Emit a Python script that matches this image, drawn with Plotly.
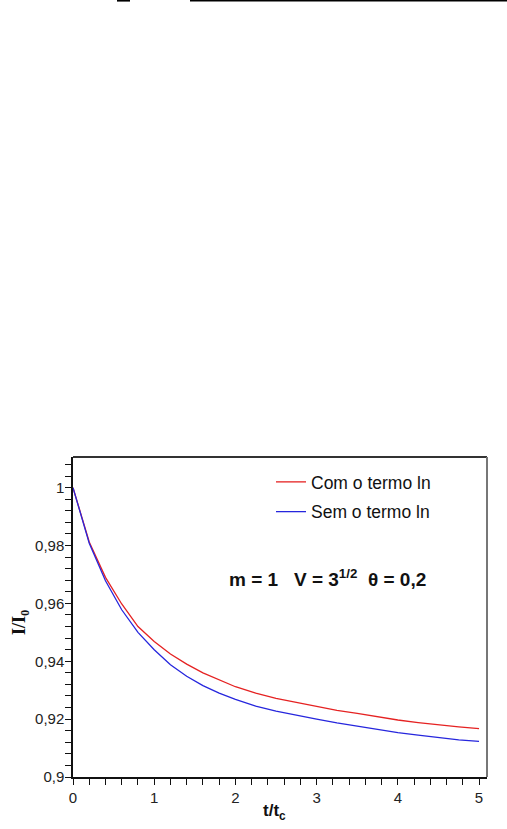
import plotly.graph_objects as go

t_vals = [0, 0.2, 0.4, 0.6, 0.8, 1.0, 1.2, 1.4, 1.6, 1.8, 2.0, 2.25, 2.5, 2.75,
          3.0, 3.25, 3.5, 3.75, 4.0, 4.25, 4.5, 4.75, 5.0]
com_ln = [1.0, 0.9812, 0.9690, 0.9598, 0.9520, 0.9468, 0.9425, 0.9390, 0.9360,
          0.9335, 0.9312, 0.9290, 0.9272, 0.9258, 0.9243, 0.9230, 0.9220, 0.9208,
          0.9197, 0.9188, 0.9180, 0.9173, 0.9167]
sem_ln = [1.0, 0.9808, 0.9678, 0.9578, 0.9500, 0.9440, 0.9388, 0.9348, 0.9316,
          0.9290, 0.9268, 0.9245, 0.9228, 0.9213, 0.9200, 0.9187, 0.9176, 0.9164,
          0.9153, 0.9145, 0.9136, 0.9128, 0.9123]
series_names = ["Com o termo ln", "Sem o termo ln"]
y_ticks = [0.9, 0.92, 0.94, 0.96, 0.98, 1.0]
x_ticks = [0, 1, 2, 3, 4, 5]

W, H = 507, 829
L, R, T, B = 73, 20, 457, 52
pw, ph = W - L - R, H - T - B

def px(xp):
    return (xp - L) / pw

def py(yp):
    return (H - B - yp) / ph

fig = go.Figure()
fig.add_trace(go.Scatter(x=t_vals, y=com_ln, mode="lines", name=series_names[0],
                         line=dict(color="#e52222", width=1.3), legendgroup="a"))
fig.add_trace(go.Scatter(x=t_vals, y=sem_ln, mode="lines", name=series_names[1],
                         line=dict(color="#2626dd", width=1.3), legendgroup="b"))

tickfont = dict(family="Liberation Sans, Arial, sans-serif", size=15, color="#222")
NB = "\u00a0"

fig.update_layout(
    width=W, height=H,
    margin=dict(l=L, r=R, t=T, b=B, pad=0),
    paper_bgcolor="white", plot_bgcolor="white",
    separators=",.",
    showlegend=True,
    legend=dict(x=px(271), y=py(464), xanchor="left", yanchor="top",
                font=dict(family="Liberation Sans, Arial, sans-serif", size=17.5, color="#111"),
                bgcolor="rgba(0,0,0,0)", tracegroupgap=4, borderwidth=0),
    xaxis=dict(range=[0, 5.098], tickvals=x_ticks, ticks="outside", ticklen=6,
               tickwidth=1.3, tickcolor="#111", showline=True, linecolor="#111",
               linewidth=1.5, showgrid=False, zeroline=False, tickfont=tickfont,
               minor=dict(dtick=0.2, tick0=0, ticks="outside", ticklen=6,
                          tickwidth=1.3, tickcolor="#111", showgrid=False)),
    yaxis=dict(range=[0.9, 1.0106], tickvals=y_ticks, ticks="outside", ticklen=6,
               tickwidth=1.3, tickcolor="#111", showline=True, linecolor="#111",
               linewidth=1.5, showgrid=False, zeroline=False, tickfont=tickfont,
               ticklabelstandoff=-2,
               minor=dict(dtick=0.004, tick0=0.9, ticks="outside", ticklen=6,
                          tickwidth=1.3, tickcolor="#111", showgrid=False)),
    shapes=[
        dict(type="line", xref="paper", yref="paper", x0=0, x1=1, y0=1, y1=1,
             line=dict(color="#333", width=2)),
        dict(type="line", xref="paper", yref="paper", x0=1, x1=1, y0=0, y1=1,
             line=dict(color="#777", width=2)),
        dict(type="line", xref="paper", yref="paper", x0=px(190), x1=px(507),
             y0=py(0.8), y1=py(0.8), line=dict(color="#000", width=1.6)),
        dict(type="line", xref="paper", yref="paper", x0=px(117), x1=px(130),
             y0=py(0.8), y1=py(0.8), line=dict(color="#000", width=1.6)),
    ],
    annotations=[
        dict(text="<b>m = 1" + NB * 3 + "V = 3<sup>1/2</sup>" + NB * 2 + "θ = 0,2</b>",
             xref="paper", yref="paper",
             x=px(227), y=py(578), xanchor="left", yanchor="middle", showarrow=False,
             font=dict(family="Liberation Sans, Arial, sans-serif", size=19, color="#111")),
        dict(text="<b>I/I<sub>0</sub></b>", xref="paper", yref="paper",
             x=px(20), y=py(622), xanchor="center", yanchor="middle", showarrow=False,
             textangle=-90,
             font=dict(family="Liberation Serif, Times New Roman, serif", size=18, color="#111")),
        dict(text="<b>t/t<sub>c</sub></b>", xref="paper", yref="paper",
             x=px(274), y=py(812), xanchor="center", yanchor="middle", showarrow=False,
             font=dict(family="Liberation Sans, Arial, sans-serif", size=17, color="#111")),
    ],
)

fig.write_html("out.html", config={"displayModeBar": False},
               post_script="document.body.style.margin='0';")
